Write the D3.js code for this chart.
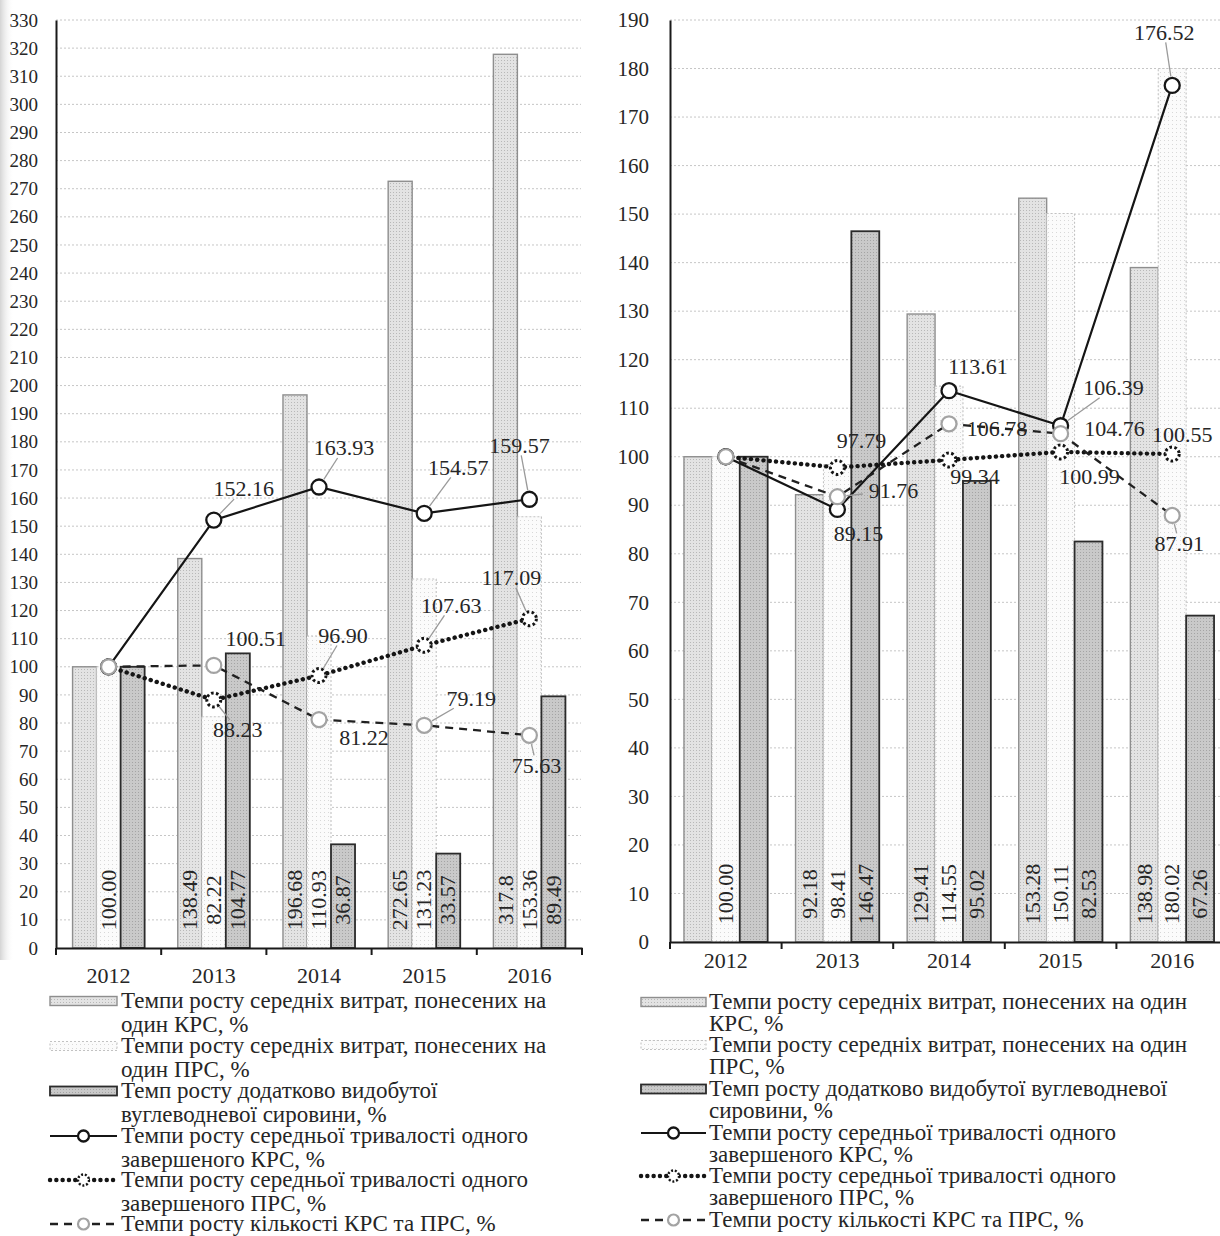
<!DOCTYPE html>
<html>
<head>
<meta charset="utf-8">
<script src="https://cdn.jsdelivr.net/npm/d3@7"></script>
<style>
  body { margin: 0; background: #fff; }
  svg { display: block; font-family: "Liberation Serif", "Times New Roman", serif; }
</style>
</head>
<body>
<svg id="chart" width="1220" height="1236"></svg>
<script>
// ---------- data ----------
const years = ["2012", "2013", "2014", "2015", "2016"];

// left panel: bar series (values as printed on the bars)
const leftCostKRS   = ["100.00", "138.49", "196.68", "272.65", "317.8"];
const leftCostPRS   = ["100.00", "82.22", "110.93", "131.23", "153.36"];
const leftExtraOil  = ["100.00", "104.77", "36.87", "33.57", "89.49"];
// left panel: line series
const leftDurKRS    = ["100.00", "152.16", "163.93", "154.57", "159.57"];
const leftDurPRS    = ["100.00", "88.23", "96.90", "107.63", "117.09"];
const leftCount     = ["100.00", "100.51", "81.22", "79.19", "75.63"];

// right panel: bar series
const rightCostKRS  = ["100.00", "92.18", "129.41", "153.28", "138.98"];
const rightCostPRS  = ["100.00", "98.41", "114.55", "150.11", "180.02"];
const rightExtraOil = ["100.00", "146.47", "95.02", "82.53", "67.26"];
// right panel: line series
const rightDurKRS   = ["100.00", "89.15", "113.61", "106.39", "176.52"];
const rightDurPRS   = ["100.00", "97.79", "99.34", "100.99", "100.55"];
const rightCount    = ["100.00", "91.76", "106.78", "104.76", "87.91"];

// value axes
const leftYMax = 330, rightYMax = 190, yStep = 10;

// legend entries (wrapped lines)
const leftLegend = [
  ["Темпи росту середніх витрат, понесених на", "один КРС, %"],
  ["Темпи росту середніх витрат, понесених на", "один ПРС, %"],
  ["Темп росту додатково видобутої", "вуглеводневої сировини, %"],
  ["Темпи росту середньої тривалості одного", "завершеного КРС, %"],
  ["Темпи росту середньої тривалості одного", "завершеного ПРС, %"],
  ["Темпи росту кількості КРС та ПРС, %"]
];
const rightLegend = [
  ["Темпи росту середніх витрат, понесених на один", "КРС, %"],
  ["Темпи росту середніх витрат, понесених на один", "ПРС, %"],
  ["Темп росту додатково видобутої вуглеводневої", "сировини, %"],
  ["Темпи росту середньої тривалості одного", "завершеного КРС, %"],
  ["Темпи росту середньої тривалості одного", "завершеного ПРС, %"],
  ["Темпи росту кількості КРС та ПРС, %"]
];

// ---------- label placement (pixel offsets from the point, leader flag) ----------
const leftLabelPos = [
  [[30, -31, 1], [25, -39, 1], [34, -46, 1], [-10, -54, 1]],
  [[24, 30, 1], [24, -40, 1], [27, -40, 1], [-18, -41, 1]],
  [[42, -27, 0], [45, 18, 0], [47, -27, 1], [7, 30, 1]]
];
const rightLabelPos = [
  [[21, 24, 0], [29, -24, 0], [53, -38, 1], [-8, -53, 1]],
  [[24, -27, 0], [26, 17, 0], [29, 25, 0], [10, -19, 0]],
  [[56, -6, 1], [48, 5, 0], [54, -5, 0], [7, 28, 1]]
];

// ---------- drawing ----------
const svg = d3.select("#chart");
const defs = svg.append("defs");

function dotPattern(id, bg, dot, size) {
  const p = defs.append("pattern").attr("id", id)
    .attr("width", size).attr("height", size).attr("patternUnits", "userSpaceOnUse");
  p.append("rect").attr("width", size).attr("height", size).attr("fill", bg);
  p.append("rect").attr("width", 1).attr("height", 1).attr("fill", dot);
}
dotPattern("patKRS", "#e3e3e3", "#b8b8b8", 3);
dotPattern("patPRS", "#fbfbfb", "#d8d8d8", 4);
dotPattern("patExtra", "#c9c9c9", "#a4a4a4", 3);

// soft shading along the left page edge
const edge = defs.append("linearGradient").attr("id", "edgeShade");
edge.append("stop").attr("offset", "0%").attr("stop-color", "#d4d4d4");
edge.append("stop").attr("offset", "100%").attr("stop-color", "#ffffff").attr("stop-opacity", 0);
svg.append("rect").attr("x", 0).attr("y", 0).attr("width", 14).attr("height", 960).attr("fill", "url(#edgeShade)");

const barStyles = [
  { fill: "url(#patKRS)", stroke: "#8e8e8e", sw: 1.4, dash: null },
  { fill: "url(#patPRS)", stroke: "#c2c2c2", sw: 1.1, dash: "2,2" },
  { fill: "url(#patExtra)", stroke: "#2b2b2b", sw: 1.8, dash: null }
];
const lineStyles = [
  { stroke: "#151515", sw: 2.2, dash: null, cap: "butt",
    m: { r: 7.5, stroke: "#151515", sw: 2.3, dash: null } },
  { stroke: "#151515", sw: 4.4, dash: "0.1,6.2", cap: "round",
    m: { r: 7, stroke: "#151515", sw: 3, dash: "2.6,2.4" } },
  { stroke: "#202020", sw: 2.3, dash: "8,6", cap: "butt",
    m: { r: 7.5, stroke: "#a3a3a3", sw: 2.2, dash: null } }
];
const textColor = "#262626";
const labelFont = 22, legendFont = 23;

function drawPanel(p) {
  const g = svg.append("g");
  const x = d3.scaleBand().domain(years).range(p.xRange);
  const bw = x.bandwidth();
  const xs = d3.scaleBand().domain([0, 1, 2]).range([0, bw]).paddingOuter(p.groupPad);
  const y = d3.scaleLinear().domain([0, p.yMax]).range(p.yRange);
  const ticks = d3.range(0, p.yMax + 1, yStep);

  // horizontal grid
  g.append("g").selectAll("line").data(ticks.filter(t => t > 0)).join("line")
    .attr("x1", p.xRange[0]).attr("x2", p.gridEnd)
    .attr("y1", d => y(d)).attr("y2", d => y(d))
    .attr("stroke", "#c6c6c6").attr("stroke-width", 1).attr("stroke-dasharray", "2,2");

  // bars
  p.bars.forEach((series, s) => {
    const st = barStyles[s];
    g.append("g").selectAll("rect").data(series.map(Number)).join("rect")
      .attr("x", (d, i) => x(years[i]) + xs(s))
      .attr("width", xs.bandwidth())
      .attr("y", d => y(d))
      .attr("height", d => y(0) - y(d))
      .attr("fill", st.fill).attr("stroke", st.stroke)
      .attr("stroke-width", st.sw).attr("stroke-dasharray", st.dash);
  });

  // rotated value labels inside the bars (first year: only the middle bar is labelled)
  p.bars.forEach((series, s) => {
    const items = series.map((v, i) => ({ v, i })).filter(d => !(d.i === 0 && s !== 1));
    g.append("g").selectAll("text").data(items).join("text")
      .attr("transform", d => `translate(${x(years[d.i]) + xs(s) + xs.bandwidth() / 2},${y(0) - p.barLabelLift}) rotate(-90)`)
      .attr("text-anchor", "middle").attr("dy", "0.33em")
      .attr("font-size", labelFont).attr("fill", textColor)
      .text(d => d.v);
  });

  // value axis
  const yAxis = g.append("g").attr("transform", `translate(${p.xRange[0]},0)`)
    .call(d3.axisLeft(y).tickValues(ticks).tickSize(0).tickPadding(p.yPad).tickFormat(d3.format("d")));
  yAxis.select(".domain").attr("stroke", "#1a1a1a").attr("stroke-width", 2);
  yAxis.selectAll("text").attr("font-size", p.yFont).attr("fill", textColor)
    .attr("font-family", "Liberation Serif, serif");

  // category axis
  const xAxis = g.append("g").attr("transform", `translate(0,${y(0)})`)
    .call(d3.axisBottom(x).tickSize(0).tickPadding(p.xPad));
  xAxis.select(".domain").attr("stroke", "#1a1a1a").attr("stroke-width", 2);
  xAxis.selectAll("text").attr("font-size", 22).attr("fill", textColor)
    .attr("font-family", "Liberation Serif, serif");
  const bounds = years.map(d => x(d)).concat([x(years[years.length - 1]) + bw]);
  g.append("g").selectAll("line").data(bounds).join("line")
    .attr("x1", d => d).attr("x2", d => d)
    .attr("y1", y(0)).attr("y2", y(0) + 7)
    .attr("stroke", "#1a1a1a").attr("stroke-width", 2);

  // lines with markers
  const cx = i => x(years[i]) + bw / 2;
  const pts = p.lines.map(series => series.map((v, i) => [cx(i), y(+v)]));
  pts.forEach((pp, s) => {
    const st = lineStyles[s];
    g.append("path").attr("d", d3.line()(pp))
      .attr("fill", "none").attr("stroke", st.stroke).attr("stroke-width", st.sw)
      .attr("stroke-dasharray", st.dash).attr("stroke-linecap", st.cap);
    g.append("g").selectAll("circle").data(pp).join("circle")
      .attr("cx", d => d[0]).attr("cy", d => d[1]).attr("r", st.m.r)
      .attr("fill", "#fff").attr("stroke", st.m.stroke)
      .attr("stroke-width", st.m.sw).attr("stroke-dasharray", st.m.dash);
  });

  // data labels with leader lines
  p.lines.forEach((series, s) => {
    series.forEach((v, i) => {
      if (i === 0) return;
      const [dx, dy, leader] = p.labelPos[s][i - 1];
      const [px, py] = pts[s][i];
      const lx = px + dx, ly = py + dy;
      if (leader) {
        const hw = v.length * 5.5 + 3, hh = 10;
        const len = Math.hypot(dx, dy);
        const tx = Math.abs(dx) > hw ? (Math.abs(dx) - hw) / Math.abs(dx) : 0;
        const ty = Math.abs(dy) > hh ? (Math.abs(dy) - hh) / Math.abs(dy) : 0;
        const tEnd = Math.max(tx, ty);
        const tStart = (lineStyles[s].m.r + 1.5) / len;
        if (tEnd > tStart) {
          g.append("line")
            .attr("x1", px + dx * tStart).attr("y1", py + dy * tStart)
            .attr("x2", px + dx * tEnd).attr("y2", py + dy * tEnd)
            .attr("stroke", "#9a9a9a").attr("stroke-width", 1.3);
        }
      }
      g.append("text").attr("x", lx).attr("y", ly).attr("dy", "0.33em")
        .attr("text-anchor", "middle").attr("font-size", labelFont).attr("fill", textColor)
        .text(v);
    });
  });
}

function drawLegend(l) {
  const g = svg.append("g");
  l.entries.forEach((lines, k) => {
    const yc = l.rows[k][0];
    // swatch
    if (k < 3) {
      const st = barStyles[k];
      g.append("rect").attr("x", l.swX).attr("y", yc - 4.5).attr("width", l.swW).attr("height", 9)
        .attr("fill", st.fill).attr("stroke", st.stroke).attr("stroke-width", st.sw)
        .attr("stroke-dasharray", st.dash);
    } else {
      const st = lineStyles[k - 3];
      g.append("line").attr("x1", l.swX).attr("x2", l.swX + l.swW).attr("y1", yc).attr("y2", yc)
        .attr("stroke", st.stroke).attr("stroke-width", st.sw)
        .attr("stroke-dasharray", st.dash).attr("stroke-linecap", st.cap);
      g.append("circle").attr("cx", l.swX + l.swW / 2).attr("cy", yc).attr("r", 5.5)
        .attr("fill", "#fff").attr("stroke", st.m.stroke).attr("stroke-width", Math.min(st.m.sw, 2.4))
        .attr("stroke-dasharray", st.m.dash ? "2,1.8" : null);
    }
    lines.forEach((t, j) => {
      g.append("text").attr("x", l.textX).attr("y", l.rows[k][j]).attr("dy", "0.3em")
        .attr("font-size", legendFont).attr("fill", textColor).text(t);
    });
  });
}

drawPanel({
  bars: [leftCostKRS, leftCostPRS, leftExtraOil],
  lines: [leftDurKRS, leftDurPRS, leftCount],
  labelPos: leftLabelPos,
  yMax: leftYMax, yRange: [948, 20], xRange: [56, 582], gridEnd: 581,
  groupPad: 0.69, yPad: 18, xPad: 19, yFont: 19, barLabelLift: 48
});
drawPanel({
  bars: [rightCostKRS, rightCostPRS, rightExtraOil],
  lines: [rightDurKRS, rightDurPRS, rightCount],
  labelPos: rightLabelPos,
  yMax: rightYMax, yRange: [942, 20], xRange: [670, 1228], gridEnd: 1228,
  groupPad: 0.5, yPad: 21, xPad: 10, yFont: 21, barLabelLift: 48
});

drawLegend({
  entries: leftLegend, swX: 50, swW: 67, textX: 121,
  rows: [[1001, 1025], [1046, 1070], [1091, 1115], [1136, 1160], [1180, 1204], [1224]]
});
drawLegend({
  entries: rightLegend, swX: 641, swW: 65, textX: 709,
  rows: [[1002, 1024], [1045, 1067], [1089, 1111], [1133, 1155], [1176, 1198], [1220]]
});
</script>
</body>
</html>
